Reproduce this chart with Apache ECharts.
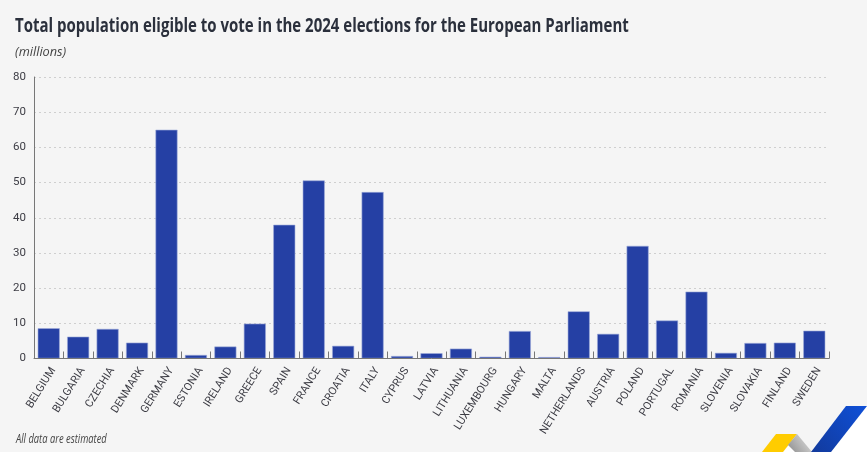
<!DOCTYPE html>
<html>
<head>
<meta charset="utf-8">
<style>
  html, body { margin: 0; padding: 0; background: #f5f5f5; }
  #chart { width: 867px; height: 452px; }
</style>
<script src="https://cdn.jsdelivr.net/npm/echarts@6/dist/echarts.min.js"></script>
</head>
<body>
<div id="chart"></div>
<script>
// countries along the x axis
var countries = ['BELGIUM', 'BULGARIA', 'CZECHIA', 'DENMARK', 'GERMANY', 'ESTONIA', 'IRELAND', 'GREECE', 'SPAIN',
  'FRANCE', 'CROATIA', 'ITALY', 'CYPRUS', 'LATVIA', 'LITHUANIA', 'LUXEMBOURG', 'HUNGARY', 'MALTA', 'NETHERLANDS',
  'AUSTRIA', 'POLAND', 'PORTUGAL', 'ROMANIA', 'SLOVENIA', 'SLOVAKIA', 'FINLAND', 'SWEDEN'];
// eligible voters, millions
var voters = [8.6, 6.2, 8.4, 4.5, 65, 1.0, 3.4, 9.9, 38, 50.6, 3.6, 47.3, 0.7, 1.5, 2.8, 0.5, 7.8, 0.4, 13.4,
  7, 32, 10.8, 19, 1.6, 4.4, 4.5, 7.9];

var chart = echarts.init(document.getElementById('chart'));

var option = {
  backgroundColor: '#f5f5f5',
  animation: false,
  grid: { left: 34, right: 38, top: 77, bottom: 93.5 },
  xAxis: {
    type: 'category',
    data: countries,
    z: 5,
    axisLine: { lineStyle: { color: '#777', width: 1 } },
    axisTick: { show: true, length: 7, inside: true, lineStyle: { color: '#777' } },
    axisLabel: {
      rotate: 58, interval: 0, margin: 7, align: 'right', verticalAlign: 'top',
      fontFamily: 'Roboto', fontSize: 11, color: '#3c3c44'
    }
  },
  yAxis: {
    type: 'value',
    min: 0,
    max: 80,
    interval: 10,
    axisLine: { show: true, lineStyle: { color: '#777', width: 1 } },
    axisTick: { show: false },
    axisLabel: { margin: 8, fontFamily: 'Roboto', fontSize: 11.5, color: '#3c3c44' },
    splitLine: { lineStyle: { type: [2, 3], color: '#cfcfcf', width: 1 } }
  },
  series: [{
    type: 'bar',
    data: voters,
    barWidth: 22,
    itemStyle: { color: '#2540a4', borderColor: '#9aa7d8', borderWidth: 0.6 }
  }],
  graphic: [
    // no condensed font here, so squeeze the texts sideways
    {
      type: 'text', x: 15, y: 16, scaleX: 0.75,
      style: {
        text: 'Total population eligible to vote in the 2024 elections for the European Parliament',
        fontFamily: 'Open Sans', fontSize: 20, fontWeight: 'bold', fill: '#2b303c'
      }
    },
    {
      type: 'text', x: 15, y: 46, scaleX: 0.98,
      style: { text: '(millions)', fontFamily: 'Open Sans', fontSize: 13, fontStyle: 'italic', fill: '#444' }
    },
    {
      type: 'text', x: 16, y: 434, scaleX: 0.78,
      style: { text: 'All data are estimated', fontFamily: 'Open Sans', fontSize: 12, fontStyle: 'italic', fill: '#444' }
    },
    // Eurostat corner logo
    { type: 'polygon', shape: { points: [[783, 452], [789, 445], [796, 452]] }, style: { fill: '#ffffff' } },
    { type: 'polygon', shape: { points: [[831, 452], [867, 406], [867, 452]] }, style: { fill: '#ffffff' } },
    { type: 'polygon', shape: { points: [[762, 452], [776, 434], [797, 434], [783, 452]] }, style: { fill: '#ffcc00' } },
    {
      type: 'polygon',
      shape: { points: [[797, 434], [788, 445], [795, 452], [812, 452]] },
      style: { fill: new echarts.graphic.LinearGradient(1, 0, 0, 1, [{ offset: 0, color: '#e4e4e4' }, { offset: 1, color: '#8e8e8e' }]) }
    },
    {
      type: 'polygon',
      shape: { points: [[811, 452], [846, 406], [867, 406], [831, 452]] },
      style: { fill: new echarts.graphic.LinearGradient(0, 1, 1, 0, [{ offset: 0, color: '#123a9c' }, { offset: 1, color: '#0f50d8' }]) }
    }
  ]
};
chart.setOption(option);
</script>
</body>
</html>
